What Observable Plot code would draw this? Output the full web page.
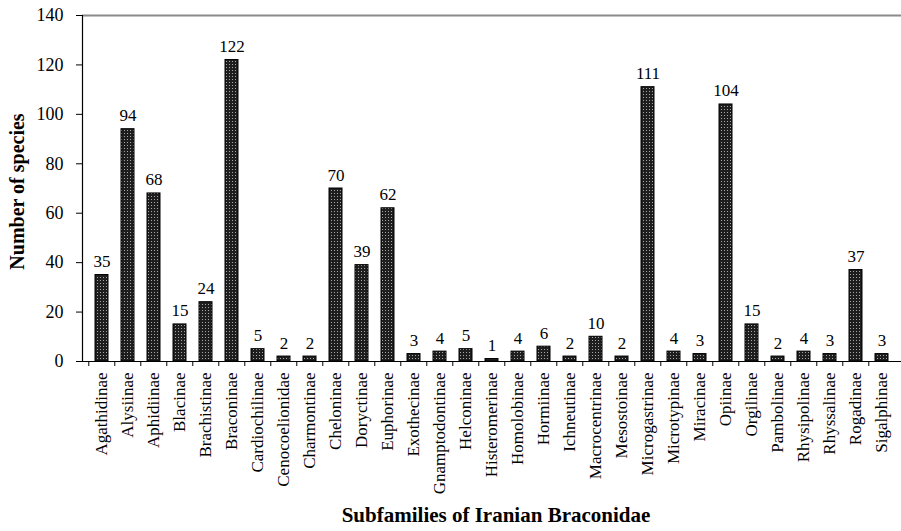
<!DOCTYPE html>
<html>
<head>
<meta charset="utf-8">
<script src="https://cdn.jsdelivr.net/npm/d3@7"></script>
<script src="https://cdn.jsdelivr.net/npm/@observablehq/plot@0.6"></script>
<style>
  html, body { margin: 0; padding: 0; background: #fff; }
  #chart svg { display: block; }
</style>
</head>
<body>
<div id="chart"></div>
<script>
const subfamilies = [
  "Agathidinae", "Alysiinae", "Aphidiinae", "Blacinae", "Brachistinae", "Braconinae",
  "Cardiochilinae", "Cenocoelionidae", "Charmontinae", "Cheloninae", "Doryctinae",
  "Euphorinae", "Exothecinae", "Gnamptodontinae", "Helconinae", "Histeromerinae",
  "Homolobinae", "Hormiinae", "Ichneutinae", "Macrocentrinae", "Mesostoinae",
  "Microgastrinae", "Microtypinae", "Miracinae", "Opiinae", "Orgilinae", "Pambolinae",
  "Rhysipolinae", "Rhyssalinae", "Rogadinae", "Sigalphinae"
];
const species = [
  35, 94, 68, 15, 24, 122,
  5, 2, 2, 70, 39,
  62, 3, 4, 5, 1,
  4, 6, 2, 10, 2,
  111, 4, 3, 104, 15, 2,
  4, 3, 37, 3
];
const yTicks = [0, 20, 40, 60, 80, 100, 120, 140];
const xTitle = "Subfamilies of Iranian Braconidae";
const yTitle = "Number of species";

const data = subfamilies.map((name, i) => ({name, value: species[i]}));

const W = 901, H = 531, ML = 82, MR = 0, MT = 15, MB = 170;
const step = (W - ML - MR) / subfamilies.length;

const chart = Plot.plot({
  width: W,
  height: H,
  marginLeft: ML,
  marginRight: MR,
  marginTop: MT,
  marginBottom: MB,
  style: {fontFamily: "'Liberation Serif', 'Times New Roman', serif", color: "#000", background: "#fff"},
  x: {domain: subfamilies, paddingInner: 0.5, paddingOuter: 0.25, label: null},
  y: {domain: [0, 140], label: null},
  marks: [
    Plot.ruleY([140], {stroke: "#8a8a8a", strokeWidth: 2}),
    Plot.barY(data, {x: "name", y: "value", fill: "url(#dots)", stroke: "#000", strokeWidth: 1}),
    Plot.text(data, {x: "name", y: "value", text: d => String(d.value), dy: -8, lineAnchor: "bottom", fontSize: 17, fill: "#000"}),
    Plot.axisY({ticks: yTicks, tickSize: 6, tickPadding: 13, fontSize: 18, label: null, stroke: "#000"}),
    Plot.axisX({tickSize: 5, tickFormat: () => "", dx: -step / 2, label: null, stroke: "#000"}),
    Plot.axisX({tickSize: 0, tickPadding: 11, tickRotate: -90, fontSize: 17, label: null}),
    Plot.ruleY([0], {stroke: "#000", strokeWidth: 1.2}),
    Plot.frame({anchor: "left", stroke: "#000", strokeWidth: 1.2}),
    Plot.text([yTitle], {frameAnchor: "left", rotate: -90, dx: -65, dy: 3, textAnchor: "middle", fontWeight: "bold", fontSize: 20, lineAnchor: "middle", fill: "#000"}),
    Plot.text([xTitle], {frameAnchor: "bottom", dy: 154, dx: 4, textAnchor: "middle", fontWeight: "bold", fontSize: 21, lineAnchor: "middle", fill: "#000"})
  ]
});

const ns = "http://www.w3.org/2000/svg";
const defs = document.createElementNS(ns, "defs");
const pat = document.createElementNS(ns, "pattern");
pat.setAttribute("id", "dots");
pat.setAttribute("width", "3");
pat.setAttribute("height", "3");
pat.setAttribute("patternUnits", "userSpaceOnUse");
const bg = document.createElementNS(ns, "rect");
bg.setAttribute("width", "3"); bg.setAttribute("height", "3"); bg.setAttribute("fill", "#1e1e1e");
const dot = document.createElementNS(ns, "rect");
dot.setAttribute("x", "1"); dot.setAttribute("y", "1");
dot.setAttribute("width", "1"); dot.setAttribute("height", "1"); dot.setAttribute("fill", "#a8a8a8");
pat.appendChild(bg); pat.appendChild(dot);
defs.appendChild(pat);
chart.insertBefore(defs, chart.firstChild);

document.getElementById("chart").appendChild(chart);
</script>
</body>
</html>
